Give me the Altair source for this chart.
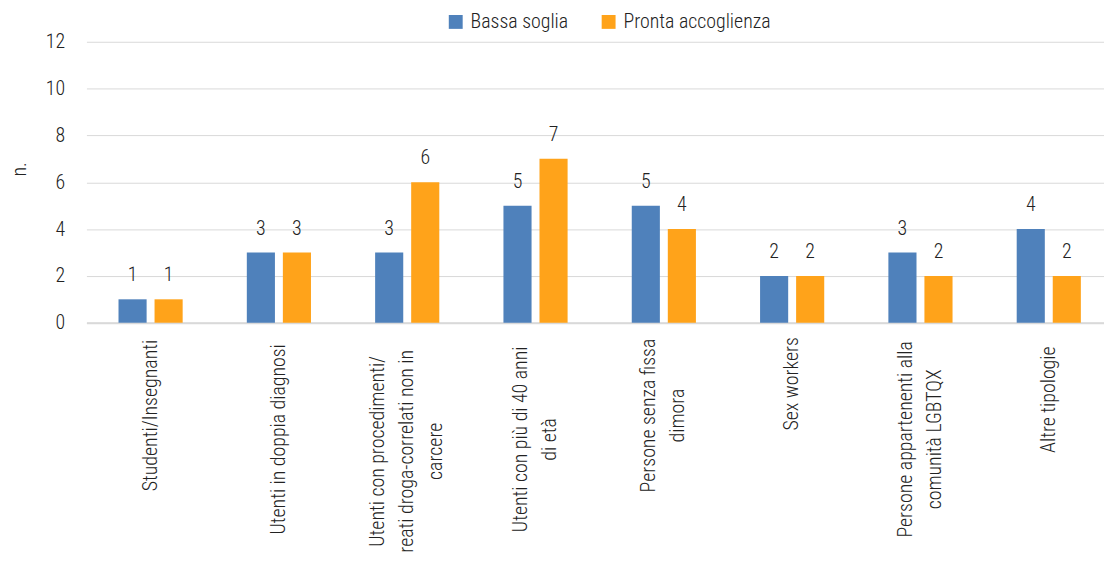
import altair as alt
import pandas as pd

FONT = "Roboto Condensed, Liberation Sans Narrow, Arial Narrow, Roboto, sans-serif"
WEIGHT = 300
TEXT_COLOR = "#222222"

categories = [
    "Studenti/Insegnanti",
    "Utenti in doppia diagnosi",
    "Utenti con procedimenti/|reati droga-correlati non in|carcere",
    "Utenti con più di 40 anni|di età",
    "Persone senza fissa|dimora",
    "Sex workers",
    "Persone appartenenti alla|comunità LGBTQX",
    "Altre tipologie",
]
series = ["Bassa soglia", "Pronta accoglienza"]
bassa_soglia = [1, 3, 3, 5, 5, 2, 3, 4]
pronta_accoglienza = [1, 3, 6, 7, 4, 2, 2, 2]
colors = ["#4F81BB", "#FFA31A"]
y_ticks = [0, 2, 4, 6, 8, 10, 12]

LINE_H = 29
CHAR_W = 8.0  # approximate average glyph advance of the label font at 20px

rows = []
for c, b, p in zip(categories, bassa_soglia, pronta_accoglienza):
    rows.append({"cat": c, "series": series[0], "value": b})
    rows.append({"cat": c, "series": series[1], "value": p})
df = pd.DataFrame(rows)

label_offset = {
    "condition": [
        {"test": "length(split(datum.label, '|')) == 3", "value": -LINE_H},
        {"test": "length(split(datum.label, '|')) == 2", "value": -LINE_H / 2},
    ],
    "value": 0,
}

# centre-justified rotated labels: pad each block by half its longest line
label_padding = {
    "condition": [
        {
            "test": "datum.label == '" + c + "'",
            "value": round(17 + CHAR_W * max(len(s) for s in c.split("|")) / 2, 1),
        }
        for c in categories
    ],
    "value": 100,
}

base = alt.Chart(df).encode(
    x=alt.X(
        "cat:N",
        sort=categories,
        scale=alt.Scale(range=[0, 1034], paddingInner=0.5, paddingOuter=0.25),
        axis=alt.Axis(
            title=None,
            labelAngle=-90,
            labelAlign="center",
            labelBaseline="middle",
            labelPadding=label_padding,
            labelOffset=label_offset,
            labelFont=FONT,
            labelFontSize=20,
            labelFontWeight=WEIGHT,
            labelColor=TEXT_COLOR,
            labelLineHeight=LINE_H,
            labelLimit=0,
            labelExpr="split(datum.label, '|')",
            ticks=False,
            grid=False,
            domainColor="#d9d9d9",
            domainWidth=2,
        ),
    ),
    xOffset=alt.XOffset(
        "series:N", sort=series, scale=alt.Scale(paddingInner=0.22, paddingOuter=0)
    ),
)

bars = base.mark_bar().encode(
    y=alt.Y(
        "value:Q",
        scale=alt.Scale(domain=[0, 12]),
        axis=alt.Axis(
            values=y_ticks,
            title="n.",
            titleFont=FONT,
            titleFontSize=20,
            titleFontWeight=WEIGHT,
            titleColor=TEXT_COLOR,
            titleX=-67,
            titleY=128,
            titleAngle=-90,
            titleAlign="center",
            titleBaseline="middle",
            labelFont=FONT,
            labelFontSize=20,
            labelFontWeight=WEIGHT,
            labelColor=TEXT_COLOR,
            labelPadding=22,
            ticks=False,
            domain=False,
            gridColor="#d9d9d9",
            gridWidth=1,
        ),
    ),
    color=alt.Color(
        "series:N",
        scale=alt.Scale(domain=series, range=colors),
        legend=alt.Legend(
            title=None,
            orient="none",
            direction="horizontal",
            legendX=362,
            legendY=-30,
            symbolType="square",
            symbolSize=196,
            symbolStrokeWidth=0,
            labelFont=FONT,
            labelFontSize=20,
            labelFontWeight=WEIGHT,
            labelColor=TEXT_COLOR,
            labelOffset=5,
            columnPadding=30,
        ),
    ),
)

text = base.mark_text(
    dy=-18,
    baseline="alphabetic",
    font=FONT,
    fontSize=20,
    fontWeight=WEIGHT,
    color=TEXT_COLOR,
).encode(y=alt.Y("value:Q"), text=alt.Text("value:Q"))

chart = (
    alt.layer(bars, text)
    .properties(
        width=1024,
        height=283,
        autosize=alt.AutoSizeParams(type="none"),
        padding={"left": 79, "top": 32, "right": 1, "bottom": 239},
    )
    .configure_view(stroke=None)
)

chart.save("out.html", embed_options={"renderer": "svg", "actions": False})
